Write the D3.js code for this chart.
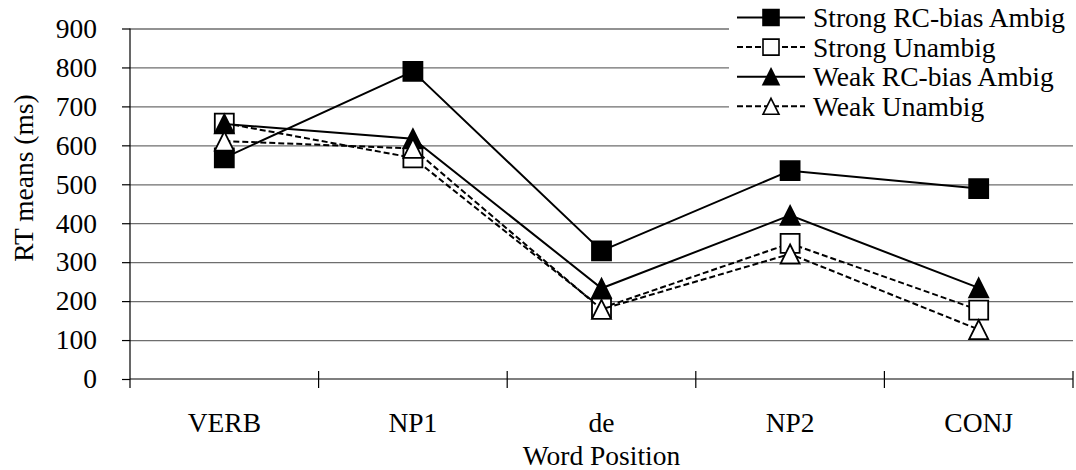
<!DOCTYPE html>
<html>
<head>
<meta charset="utf-8">
<script src="https://cdn.jsdelivr.net/npm/d3@7/dist/d3.min.js"></script>
<style>
  html, body { margin: 0; padding: 0; background: #fff; }
  svg { display: block; }
  text { font-family: "Liberation Serif", "Times New Roman", serif; fill: #000; }
</style>
</head>
<body>
<svg id="chart" width="1076" height="470"></svg>
<script>
const categories = ["VERB", "NP1", "de", "NP2", "CONJ"];
const seriesNames = ["Strong RC-bias Ambig", "Strong Unambig", "Weak RC-bias Ambig", "Weak Unambig"];
const strongAmbig = [568, 790, 329, 535, 489];
const strongUnambig = [657, 568, 182, 348, 177];
const weakAmbig = [655, 617, 233, 420, 234];
const weakUnambig = [611, 592, 179, 321, 127];
const yTicks = [0, 100, 200, 300, 400, 500, 600, 700, 800, 900];
const yTitle = "RT means (ms)";
const xTitle = "Word Position";

const series = [
  { name: seriesNames[0], values: strongAmbig, shape: "square", fill: "#000", dash: null },
  { name: seriesNames[1], values: strongUnambig, shape: "square", fill: "#fff", dash: "6,3" },
  { name: seriesNames[2], values: weakAmbig, shape: "triangle", fill: "#000", dash: null },
  { name: seriesNames[3], values: weakUnambig, shape: "triangle", fill: "#fff", dash: "6,3" }
];

const svg = d3.select("#chart");
const pL = 130, pR = 1073, pT = 28.5, pB = 379;
const FS = 27.5;

const x = d3.scaleBand().domain(categories).range([pL, pR]).padding(0);
const y = d3.scaleLinear().domain([0, 900]).range([pB, pT]);

// gridlines
const grid = svg.append("g").attr("transform", `translate(${pL},0)`)
  .call(d3.axisLeft(y).tickValues(yTicks.filter(v => v > 0)).tickSize(-(pR - pL)).tickFormat(""));
grid.select(".domain").remove();
grid.selectAll("line").attr("stroke", "#6e6e6e").attr("stroke-width", 1.3);

// y axis
const yAxis = svg.append("g").attr("transform", `translate(${pL},0)`)
  .call(d3.axisLeft(y).tickValues(yTicks).tickSize(8).tickPadding(25).tickSizeOuter(0));
yAxis.select(".domain").remove();
yAxis.selectAll("line").attr("stroke", "#000").attr("stroke-width", 1.2);
yAxis.selectAll("text").style("font-size", FS + "px").attr("font-family", null);
svg.append("line").attr("x1", pL).attr("x2", pL).attr("y1", y(900)).attr("y2", pB + 9)
  .attr("stroke", "#000").attr("stroke-width", 1.2);

// x axis line
svg.append("line").attr("x1", pL).attr("x2", pR).attr("y1", pB).attr("y2", pB)
  .attr("stroke", "#000").attr("stroke-width", 1.2);
const bounds = categories.map(c => x(c)).concat([x.range()[1]]);
svg.append("g").selectAll("line").data(bounds.slice(1)).join("line")
  .attr("x1", d => d).attr("x2", d => d).attr("y1", pB - 8).attr("y2", pB + 9)
  .attr("stroke", "#000").attr("stroke-width", 1.2);

// category labels
svg.append("g").selectAll("text").data(categories).join("text")
  .attr("x", d => x(d) + x.bandwidth() / 2).attr("y", 432)
  .attr("text-anchor", "middle").style("font-size", FS + "px").text(d => d);

// axis titles
svg.append("text").attr("x", (pL + pR) / 2).attr("y", 465).attr("text-anchor", "middle")
  .style("font-size", FS + "px").text(xTitle);
svg.append("text").attr("transform", "translate(23,178) rotate(-90)")
  .attr("text-anchor", "middle").attr("dominant-baseline", "central")
  .style("font-size", FS + "px").text(yTitle);

function markerPath(shape, s) {
  const h = s / 2;
  if (shape === "square") return `M${-h},${-h}H${h}V${h}H${-h}Z`;
  return `M0,${-h}L${h},${h}L${-h},${h}Z`;
}

const cx = c => x(c) + x.bandwidth() / 2;
const line = d3.line().x((d, i) => cx(categories[i])).y(d => y(d));

series.forEach(s => {
  svg.append("path").attr("d", line(s.values)).attr("fill", "none")
    .attr("stroke", "#000").attr("stroke-width", 2)
    .attr("stroke-dasharray", s.dash);
  svg.append("g").selectAll("path").data(s.values).join("path")
    .attr("transform", (d, i) => `translate(${cx(categories[i])},${y(d)})`)
    .attr("d", markerPath(s.shape, 19))
    .attr("fill", s.fill).attr("stroke", "#000").attr("stroke-width", 1.8);
});

// legend
const lg = svg.append("g");
lg.append("rect").attr("x", 729).attr("y", 0).attr("width", 347).attr("height", 122).attr("fill", "#fff");
const rowY = i => 17.5 + i * 29.6;
series.forEach((s, i) => {
  const yy = rowY(i);
  lg.append("line").attr("x1", 737).attr("x2", 805).attr("y1", yy).attr("y2", yy)
    .attr("stroke", "#000").attr("stroke-width", 2).attr("stroke-dasharray", s.dash);
  lg.append("path").attr("transform", `translate(771,${yy})`).attr("d", markerPath(s.shape, 16))
    .attr("fill", s.fill).attr("stroke", "#000").attr("stroke-width", 1.6);
  lg.append("text").attr("x", 813).attr("y", yy).attr("dominant-baseline", "central")
    .style("font-size", FS + "px").text(s.name);
});
</script>
</body>
</html>
